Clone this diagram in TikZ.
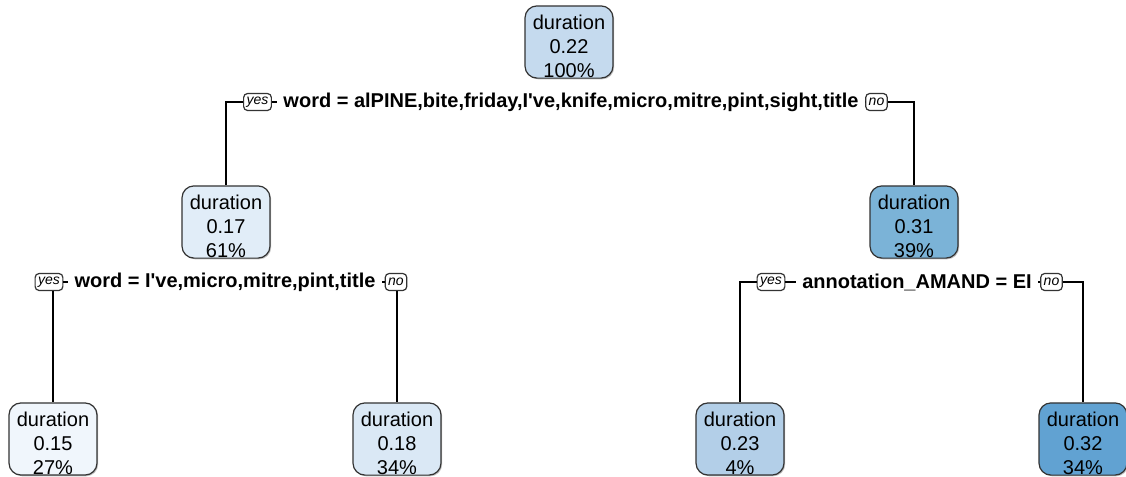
\documentclass[tikz,border=0pt]{standalone}
\usepackage{fontspec}
\setmainfont{Liberation Sans}
\usetikzlibrary{shadows}

\definecolor{fillA}{RGB}{240,246,252}
\definecolor{fillB}{RGB}{225,237,248}
\definecolor{fillC}{RGB}{218,232,245}
\definecolor{fillD}{RGB}{197,218,238}
\definecolor{fillE}{RGB}{179,207,232}
\definecolor{fillF}{RGB}{123,179,215}
\definecolor{fillG}{RGB}{97,162,210}

% three lines of a tree node, pushed a little down
\newcommand{\durtext}[2]{\rule{0pt}{12pt}duration\\#1\\#2}

\tikzset{
  tnode/.style={draw=black!80, rounded corners=6pt, minimum width=44pt,
    minimum height=35pt, inner sep=0pt, align=center,
    font=\fontsize{10}{12}\selectfont,
    drop shadow={shadow xshift=0.6pt,shadow yshift=-0.6pt,opacity=0.5}},
  split/.style={fill=white, inner xsep=3pt, inner ysep=1pt,
    font=\fontsize{10}{12}\selectfont\bfseries},
  yesno/.style={draw=black!80, fill=white, rounded corners=2pt, inner xsep=1.5pt,
    inner ysep=0pt, minimum height=8.5pt, font=\fontsize{7}{8}\selectfont\itshape},
}

\begin{document}
\begin{tikzpicture}[x=0.5pt,y=-0.5pt,line width=0.6pt]
  \useasboundingbox (0,0) rectangle (1126,477);

  % nodes
  \node[tnode,fill=fillD] (root) at (569,42) {\durtext{0.22}{100\%}};
  \node[tnode,fill=fillB] (n2) at (226,222) {\durtext{0.17}{61\%}};
  \node[tnode,fill=fillF] (n3) at (914,222) {\durtext{0.31}{39\%}};
  \node[tnode,fill=fillA] (l1) at (53,439) {\durtext{0.15}{27\%}};
  \node[tnode,fill=fillC] (l2) at (397,439) {\durtext{0.18}{34\%}};
  \node[tnode,fill=fillE] (l3) at (740,439) {\durtext{0.23}{4\%}};
  \node[tnode,fill=fillG] (l4) at (1083,439) {\durtext{0.32}{34\%}};

  % splits
  \node[split] (q1) at (571,102) {word = alPINE,bite,friday,I\textquotesingle ve,knife,micro,mitre,pint,sight,title};
  \node[yesno] (yes1) at (257.5,102) {yes};
  \node[yesno] (no1) at (876.5,102) {no};
  \node[split] (q2) at (225,282) {word = I\textquotesingle ve,micro,mitre,pint,title};
  \node[yesno] (yes2) at (49,282) {yes};
  \node[yesno] (no2) at (396,282) {no};
  \node[split] (q3) at (917,282) {annotation\_AMAND = EI};
  \node[yesno] (yes3) at (771,282) {yes};
  \node[yesno] (no3) at (1051.5,282) {no};

  % connectors
  \draw (yes1.east) -- (q1.west);
  \draw (q1.east) -- (no1.west);
  \draw (yes1.west) -| (n2.north);
  \draw (no1.east) -| (n3.north);
  \draw (yes2.east) -- (q2.west);
  \draw (q2.east) -- (no2.west);
  \draw (l1.north |- yes2.south) -- (l1.north);
  \draw (l2.north |- no2.south) -- (l2.north);
  \draw (yes3.east) -- (q3.west);
  \draw (q3.east) -- (no3.west);
  \draw (yes3.west) -| (l3.north);
  \draw (no3.east) -| (l4.north);
\end{tikzpicture}
\end{document}
